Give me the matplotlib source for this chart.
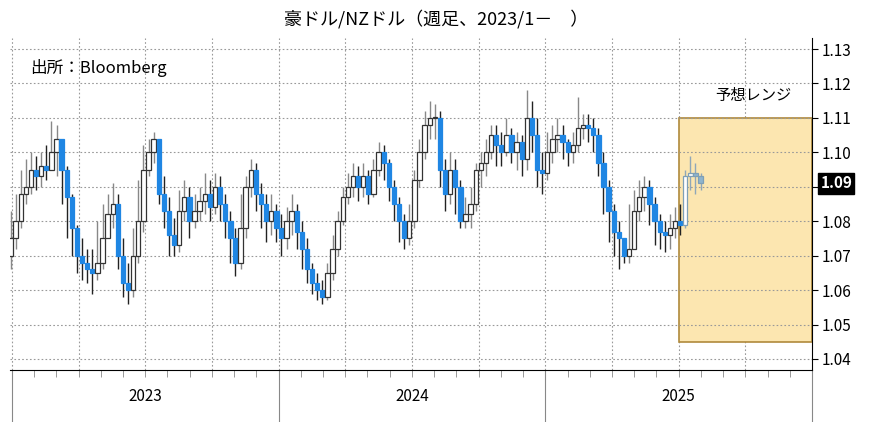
import matplotlib
matplotlib.use("Agg")
import matplotlib.pyplot as plt
from matplotlib.patches import Rectangle
import numpy as np

plt.rcParams["font.family"] = "Noto Sans CJK JP"

close = [1.075,1.08,1.088,1.09,1.095,1.093,1.096,1.095,1.10,1.104,1.095,1.087,1.078,1.07,1.068,1.066,1.065,1.068,1.075,1.082,1.085,1.07,1.062,1.06,1.07,1.08,1.095,1.10,1.104,1.088,1.083,1.076,1.073,1.083,1.087,1.08,1.083,1.086,1.088,1.084,1.09,1.085,1.08,1.075,1.068,1.078,1.09,1.095,1.088,1.085,1.08,1.083,
         1.078,1.075,1.08,1.083,1.077,1.072,1.066,1.062,1.06,1.058,1.065,1.072,1.08,1.087,1.09,1.093,1.09,1.093,1.088,1.095,1.10,1.097,1.09,1.085,1.08,1.075,1.08,1.092,1.10,1.108,1.11,1.11,1.095,1.088,1.095,1.09,1.08,1.082,1.085,1.095,1.097,1.10,1.105,1.102,1.10,1.105,1.1,1.103,1.098,1.11,1.105,1.095,
         1.094,1.10,1.104,1.105,1.103,1.10,1.102,1.107,1.108,1.107,1.105,1.097,1.09,1.083,1.077,1.075,1.07,1.072,1.083,1.087,1.09,1.085,1.08,1.077,1.076,1.078,1.08,1.079,1.093,1.094,1.093,1.091]
high = [1.083,1.088,1.095,1.098,1.10,1.099,1.10,1.102,1.109,1.108,1.104,1.096,1.088,1.079,1.075,1.072,1.072,1.08,1.085,1.088,1.091,1.088,1.075,1.068,1.078,1.092,1.102,1.104,1.106,1.104,1.093,1.087,1.081,1.089,1.092,1.09,1.088,1.09,1.094,1.092,1.094,1.093,1.088,1.083,1.078,1.088,1.093,1.098,1.097,1.091,1.088,1.088,
        1.085,1.082,1.084,1.088,1.085,1.08,1.075,1.068,1.065,1.063,1.068,1.076,1.083,1.09,1.094,1.097,1.096,1.097,1.095,1.098,1.103,1.102,1.098,1.092,1.087,1.082,1.085,1.095,1.104,1.112,1.115,1.114,1.112,1.098,1.1,1.098,1.092,1.087,1.09,1.097,1.1,1.104,1.108,1.108,1.106,1.11,1.107,1.106,1.105,1.118,1.115,1.11,
        1.1,1.106,1.108,1.11,1.108,1.104,1.106,1.116,1.111,1.111,1.11,1.107,1.1,1.092,1.085,1.08,1.075,1.085,1.089,1.092,1.093,1.092,1.087,1.082,1.08,1.082,1.084,1.085,1.095,1.099,1.097,1.094]
low = [1.066,1.072,1.078,1.085,1.088,1.089,1.09,1.092,1.095,1.093,1.085,1.075,1.07,1.065,1.063,1.062,1.059,1.063,1.066,1.075,1.078,1.066,1.058,1.056,1.058,1.068,1.077,1.093,1.097,1.085,1.078,1.07,1.07,1.071,1.08,1.075,1.078,1.08,1.082,1.08,1.082,1.08,1.075,1.068,1.064,1.066,1.075,1.087,1.083,1.078,1.074,1.076,
       1.074,1.07,1.072,1.076,1.072,1.066,1.062,1.059,1.057,1.056,1.057,1.063,1.07,1.079,1.085,1.087,1.086,1.087,1.085,1.087,1.093,1.092,1.086,1.08,1.074,1.072,1.073,1.078,1.09,1.098,1.104,1.104,1.09,1.083,1.085,1.082,1.078,1.078,1.078,1.083,1.09,1.093,1.098,1.096,1.096,1.099,1.097,1.095,1.093,1.095,1.1,1.09,
       1.088,1.092,1.097,1.1,1.098,1.096,1.097,1.1,1.104,1.103,1.1,1.093,1.082,1.074,1.07,1.066,1.068,1.068,1.072,1.08,1.083,1.079,1.073,1.072,1.071,1.072,1.075,1.076,1.078,1.089,1.088,1.089]
first_open = 1.07
years = ["2023", "2024", "2025"]
range_low, range_high = 1.045, 1.11
last_label = "1.09"
yticks = [1.04,1.05,1.06,1.07,1.08,1.09,1.10,1.11,1.12,1.13]

opens = [first_open] + close[:-1]
n = len(close)
x = 2023.0 + np.arange(n) * 7 / 365.25 - 0.005

fig = plt.figure(figsize=(8.73, 4.22), dpi=100)
ax = fig.add_axes([10/873, 1-370/422, 802/873, 332/422])
ax.set_xlim(2022.993, 2026.0)
ax.set_ylim(1.0368, 1.1332)

ax.add_patch(Rectangle((2025.5, range_low), 0.5, range_high-range_low,
                       facecolor="#FCE6B0", edgecolor="#B08A3C", lw=1.2, zorder=1))

w = 7/365.25*0.85
for i in range(n):
    o, c, h, l = opens[i], close[i], high[i], low[i]
    recent = x[i] > 2025.52
    up = c >= o
    if recent:
        fc = "white" if up else "#8FB4CE"
        ec = "#7F9FB5"
        wc = "#8FA7B8"
    else:
        fc = "white" if up else "#1F86E3"
        ec = "#333333" if up else "#1F86E3"
        wc = "#888888" if up else "#222222"
    ax.vlines(x[i], l, h, color=wc, lw=1, zorder=2)
    b = min(o, c); hgt = max(abs(c-o), 0.0004)
    ax.add_patch(Rectangle((x[i]-w/2, b), w, hgt, facecolor=fc, edgecolor=ec, lw=0.9, zorder=3))

ax.yaxis.tick_right()
ax.set_yticks(yticks)
ax.set_yticklabels([f"{v:.2f}" for v in yticks], fontsize=11)
ax.tick_params(axis="y", length=4, pad=3)
ax.grid(True, axis="y", linestyle=(0,(1.5,2)), color="#999999", lw=0.8)
for q in np.arange(2023.0, 2026.0, 0.25):
    ax.axvline(q, linestyle=(0,(1.5,2)), color="#999999", lw=0.8, zorder=0)

ax.set_xticks([2023, 2024, 2025, 2026])
ax.set_xticklabels([])
ax.set_xticks(2023 + np.arange(36)/12, minor=True)
ax.tick_params(axis="x", which="major", length=40, color="#888888")
ax.tick_params(axis="x", which="minor", length=5, color="#888888")
for k, yr in enumerate(years):
    ax.text(2023.5 + k, -0.08, yr, transform=ax.get_xaxis_transform(),
            ha="center", va="center", fontsize=11)
for s in ["top", "left"]:
    ax.spines[s].set_visible(False)

ax.annotate(last_label, xy=(1.0, close[-1]), xycoords=("axes fraction", "data"),
            xytext=(6, 0), textcoords="offset points", ha="left", va="center",
            fontsize=11, color="white", fontweight="bold",
            bbox=dict(boxstyle="square,pad=0.15", fc="black", ec="black"))

ax.text(2023.07, 1.1245, "出所：Bloomberg", fontsize=12, va="center")
ax.text(2025.78, 1.1165, "予想レンジ", fontsize=11, ha="center", va="center")
fig.text(0.5, 0.955, "豪ドル/NZドル（週足、2023/1－　）", ha="center", va="center", fontsize=13)

fig.savefig("out.png", dpi=100)
